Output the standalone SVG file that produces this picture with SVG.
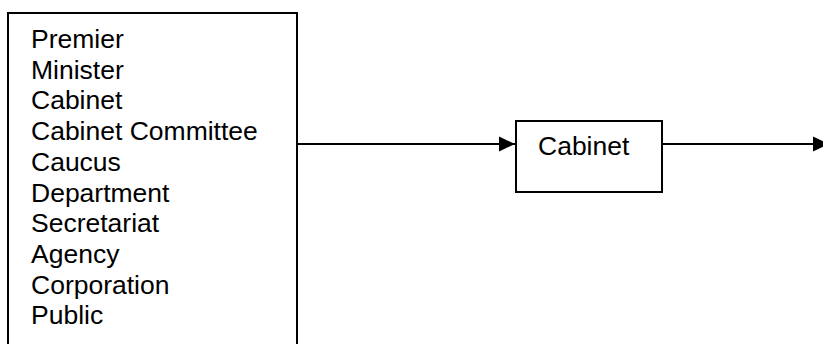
<svg xmlns="http://www.w3.org/2000/svg" width="823" height="344" viewBox="0 0 823 344">
<style>
.box{fill:#fff;stroke:#000;stroke-width:2}
.t{font-family:"Liberation Sans",Arial,sans-serif;font-size:26.5px;fill:#000}
.c{stroke:#000;stroke-width:2;fill:none}
</style>
<defs>
<marker id="ah" markerUnits="userSpaceOnUse" markerWidth="16" markerHeight="16" viewBox="0 0 16 16" refX="16" refY="8" orient="auto">
<path d="M0,0.5 L16,8 L0,15.5 Z" fill="#000"/>
</marker>
</defs>
<rect width="823" height="344" fill="#fff"/>
<g id="sources">
<rect class="box" x="8" y="13" width="289" height="360"/>
<text class="t" x="31" y="48">Premier</text>
<text class="t" x="31" y="78.7">Minister</text>
<text class="t" x="31" y="109.4">Cabinet</text>
<text class="t" x="31" y="140.1">Cabinet Committee</text>
<text class="t" x="31" y="170.8">Caucus</text>
<text class="t" x="31" y="201.5">Department</text>
<text class="t" x="31" y="232.2">Secretariat</text>
<text class="t" x="31" y="262.9">Agency</text>
<text class="t" x="31" y="293.6">Corporation</text>
<text class="t" x="31" y="324.3">Public</text>
</g>
<g id="cabinet">
<rect class="box" x="516" y="121" width="146" height="71"/>
<text class="t" x="538" y="155">Cabinet</text>
</g>
<g id="connectors">
<line class="c" x1="297" y1="144" x2="515" y2="144" marker-end="url(#ah)"/>
<line class="c" x1="662" y1="144" x2="829" y2="144" marker-end="url(#ah)"/>
</g>
</svg>
